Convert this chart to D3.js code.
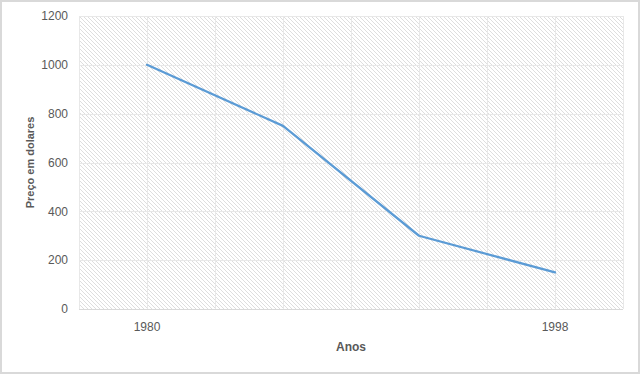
<!DOCTYPE html>
<html>
<head>
<meta charset="utf-8">
<script src="https://cdn.jsdelivr.net/npm/d3@7"></script>
<style>
  body { margin: 0; background: #fff; }
  svg { display: block; }
</style>
</head>
<body>
<script>
// dati del grafico
var categorie = ["1980", "b", "c", "1998"];
var etichetteX = { "1980": "1980", "b": "", "c": "", "1998": "1998" };
var prezzi = [1000, 750, 300, 150];
var tickY = [0, 200, 400, 600, 800, 1000, 1200];

var W = 640, H = 374;
var margin = { top: 16, right: 17, bottom: 65, left: 79 };
var width = W - margin.left - margin.right;
var height = H - margin.top - margin.bottom;

var svg = d3.select("body").append("svg")
  .attr("width", W)
  .attr("height", H);

// bordo esterno
svg.append("rect")
  .attr("x", 1).attr("y", 1)
  .attr("width", W - 2).attr("height", H - 2)
  .attr("fill", "#fff")
  .attr("stroke", "#d9d9d9")
  .attr("stroke-width", 2);

// pattern tratteggiato dello sfondo
var defs = svg.append("defs");
var pat = defs.append("pattern")
  .attr("id", "hatch")
  .attr("patternUnits", "userSpaceOnUse")
  .attr("width", 4).attr("height", 4);
pat.append("rect").attr("width", 4).attr("height", 4).attr("fill", "#fff");
pat.append("path")
  .attr("d", "M-1,-1 L5,5 M-1,3 L1,5 M3,-1 L5,1")
  .attr("stroke", "#dedede")
  .attr("stroke-width", 1);

var g = svg.append("g")
  .attr("transform", "translate(" + margin.left + "," + margin.top + ")");

var x = d3.scaleBand().domain(categorie).range([0, width]).padding(0);
var y = d3.scaleLinear().domain([0, 1200]).range([height, 0]);

g.append("rect")
  .attr("width", width).attr("height", height)
  .attr("fill", "url(#hatch)");

// griglia orizzontale
g.selectAll(".gy")
  .data(tickY)
  .enter().append("line")
  .attr("x1", 0).attr("x2", width)
  .attr("y1", function (d) { return Math.round(y(d)) + 0.5; })
  .attr("y2", function (d) { return Math.round(y(d)) + 0.5; })
  .attr("stroke", function (d) { return d === 0 ? "#d9d9d9" : "#e8e8e8"; })
  .attr("stroke-width", 1);

// griglia verticale (bordi e centri delle categorie)
var posX = [];
categorie.forEach(function (c) {
  posX.push(x(c));
  posX.push(x(c) + x.bandwidth() / 2);
});
posX.push(width);
g.selectAll(".gx")
  .data(posX)
  .enter().append("line")
  .attr("x1", function (d) { return Math.round(d) + 0.5; })
  .attr("x2", function (d) { return Math.round(d) + 0.5; })
  .attr("y1", 0).attr("y2", height)
  .attr("stroke", "#e8e8e8")
  .attr("stroke-width", 1);

// etichette asse Y
g.selectAll(".ty")
  .data(tickY)
  .enter().append("text")
  .attr("x", -11)
  .attr("y", function (d) { return y(d); })
  .attr("dy", "0.35em")
  .attr("text-anchor", "end")
  .attr("font-family", "Liberation Sans, Arial, sans-serif")
  .attr("font-size", 12)
  .attr("fill", "#595959")
  .text(function (d) { return d; });

// etichette asse X
g.selectAll(".tx")
  .data(categorie)
  .enter().append("text")
  .attr("x", function (d) { return x(d) + x.bandwidth() / 2; })
  .attr("y", height + 22)
  .attr("text-anchor", "middle")
  .attr("font-family", "Liberation Sans, Arial, sans-serif")
  .attr("font-size", 12)
  .attr("fill", "#595959")
  .text(function (d) { return etichetteX[d]; });

// linea dei prezzi
var linea = d3.line()
  .x(function (d, i) { return x(categorie[i]) + x.bandwidth() / 2; })
  .y(function (d) { return y(d); });

g.append("path")
  .datum(prezzi)
  .attr("d", linea)
  .attr("fill", "none")
  .attr("stroke", "#5b9bd5")
  .attr("stroke-width", 2.25)
  .attr("stroke-linejoin", "round")
  .attr("stroke-linecap", "round");

// titoli degli assi
svg.append("text")
  .attr("x", margin.left + width / 2)
  .attr("y", 351)
  .attr("text-anchor", "middle")
  .attr("font-family", "Liberation Sans, Arial, sans-serif")
  .attr("font-size", 12)
  .attr("font-weight", "bold")
  .attr("fill", "#595959")
  .text("Anos");

svg.append("text")
  .attr("transform", "translate(34," + (margin.top + height / 2) + ") rotate(-90)")
  .attr("text-anchor", "middle")
  .attr("font-family", "Liberation Sans, Arial, sans-serif")
  .attr("font-size", 11)
  .attr("font-weight", "bold")
  .attr("fill", "#595959")
  .text("Preço em dolares");
</script>
</body>
</html>
